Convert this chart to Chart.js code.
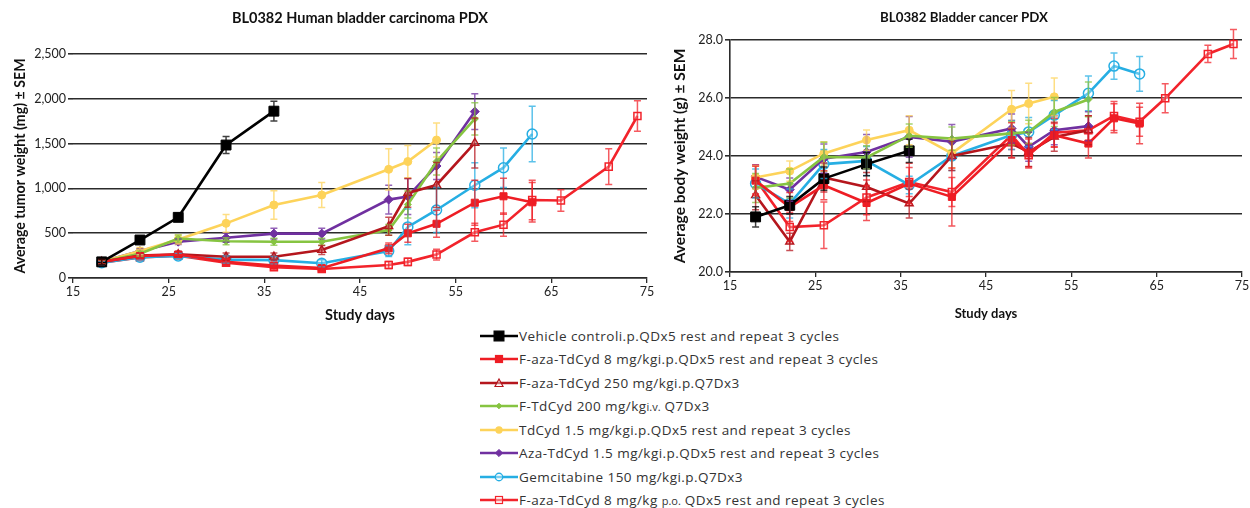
<!DOCTYPE html>
<html><head><meta charset="utf-8">
<script src="https://cdn.jsdelivr.net/npm/chart.js@4.4.1/dist/chart.umd.min.js"></script>
<style>
html,body{margin:0;padding:0;background:#fff;width:1250px;height:508px;overflow:hidden;}
#c1{position:absolute;left:0;top:0;}
#c2{position:absolute;left:660px;top:0;}
#legend{position:absolute;left:480px;top:324px;font-family:'Open Sans',sans-serif;font-size:13.5px;letter-spacing:0.45px;color:#333;}
.row{height:23.5px;display:flex;align-items:center;white-space:nowrap;}
.row svg{margin-right:1px;}
.sm{font-size:11px;letter-spacing:0;}
</style></head>
<body>
<canvas id="c1" width="655" height="324"></canvas>
<canvas id="c2" width="590" height="324"></canvas>
<div id="legend"></div>
<script>
// ---------- categories ----------
const seriesLabels = [
  'Vehicle controli.p.QDx5 rest and repeat 3 cycles',
  'F-aza-TdCyd 8 mg/kgi.p.QDx5 rest and repeat 3 cycles',
  'F-aza-TdCyd 250 mg/kgi.p.Q7Dx3',
  'F-TdCyd 200 mg/kg<span class="sm">i.v.</span> Q7Dx3',
  'TdCyd 1.5 mg/kgi.p.QDx5 rest and repeat 3 cycles',
  'Aza-TdCyd 1.5 mg/kgi.p.QDx5 rest and repeat 3 cycles',
  'Gemcitabine 150 mg/kgi.p.Q7Dx3',
  'F-aza-TdCyd 8 mg/kg <span class="sm">p.o.</span> QDx5 rest and repeat 3 cycles'
];
// ---------- study days per group ----------
const daysVehicle  = [18,22,26,31,36];
const daysFaza8ip  = [18,22,26,31,36,41,48,50,53,57,60,63];
const daysFaza250  = [18,22,26,31,36,41,48,50,53,57];
const daysFTdCyd   = [18,22,26,31,36,41,48,50,53,57];
const daysTdCyd    = [18,22,26,31,36,41,48,50,53];
const daysAza      = [18,22,26,31,36,41,48,50,53,57];
const daysGem      = [18,22,26,31,36,41,48,50,53,57,60,63];
const daysFaza8po  = [18,22,26,31,36,41,48,50,53,57,60,63,66,71,74];

// ---------- tumor weight (mg) ----------
const tumVehicle = [180,424,677,1484,1862];
const tumVehicleErr = [30,40,45,95,110];
const tumFaza8ip = [182,245,262,180,140,110,331,499,605,840,912,845];
const tumFaza8ipErr = [25,30,30,30,30,30,60,100,150,250,200,220];
const tumFaza250 = [180,250,265,238,238,312,578,950,1038,1507];
const tumFaza250Err = [20,30,30,40,40,50,100,160,250,280];
const tumFTdCyd = [180,270,440,410,405,405,536,820,1300,1775];
const tumFTdCydErr = [20,30,40,40,40,40,60,150,150,180];
const tumTdCyd = [180,300,430,610,815,926,1213,1300,1540];
const tumTdCydErr = [20,40,50,100,160,140,230,180,190];
const tumAza = [180,300,405,450,495,495,875,910,1250,1857];
const tumAzaErr = [20,30,30,50,60,60,160,200,150,200];
const tumGem = [170,232,245,205,200,165,300,570,759,1035,1231,1607];
const tumGemErr = [20,30,30,40,40,40,60,200,250,250,220,310];
const tumFaza8po = [170,230,250,170,120,100,145,180,262,510,595,870,865,1243,1808];
const tumFaza8poErr = [20,30,30,30,30,30,40,40,60,100,130,220,120,200,170];

// ---------- body weight (g) ----------
const bwVehicle = [21.90,22.30,23.22,23.72,24.18];
const bwVehicleErr = [0.35,0.3,0.4,0.4,0.4];
const bwFaza8ip = [23.15,22.24,22.99,22.38,23.05,22.59,24.55,24.09,24.72,24.43,25.30,25.12];
const bwFaza8ipErr = [0.5,0.5,0.5,0.6,0.7,1.0,0.6,0.5,0.4,0.5,0.5,0.7];
const bwFaza250 = [22.65,21.04,23.26,22.93,22.36,24.00,24.43,24.14,24.66,24.89];
const bwFaza250Err = [0.5,0.3,0.5,0.5,0.5,0.5,0.5,0.5,0.5,0.5];
const bwFTdCyd = [22.90,23.05,23.97,23.95,24.70,24.60,24.78,24.83,25.52,25.95];
const bwFTdCydErr = [0.5,0.5,0.5,0.4,0.4,0.4,0.4,0.4,0.5,0.6];
const bwTdCyd = [23.26,23.48,24.09,24.55,24.89,24.09,25.61,25.81,26.04];
const bwTdCydErr = [0.4,0.35,0.4,0.35,0.5,0.5,0.65,0.7,0.65];
const bwAza = [23.28,22.84,23.91,24.14,24.66,24.49,24.95,24.32,24.89,25.03];
const bwAzaErr = [0.4,0.4,0.5,0.6,0.7,0.6,0.5,0.5,0.5,0.5];
const bwGem = [23.05,22.36,23.72,23.83,23.00,24.00,24.72,24.83,25.41,26.16,27.10,26.83];
const bwGemErr = [0.5,0.5,0.5,0.5,0.3,0.5,0.5,0.5,0.5,0.6,0.45,0.6];
const bwFaza8po = [23.20,21.55,21.61,22.57,23.10,22.76,24.72,24.03,24.80,24.89,25.38,25.18,25.99,27.52,27.86];
const bwFaza8poErr = [0.5,0.5,0.8,0.6,0.5,0.5,0.5,0.4,0.5,0.5,0.5,0.5,0.5,0.3,0.5];

// ---------- tick labels ----------
const xTicks = [15,25,35,45,55,65,75];
const tumTicks = [0,500,1000,1500,2000,2500];
const bwTicks = [20,22,24,26,28];

// ---------- styles ----------
const styles = [
  {color:'#000000', pointStyle:'rect', r:7, fill:true},
  {color:'#ee1d24', pointStyle:'rect', r:5, fill:true},
  {color:'#b5161d', pointStyle:'triangle', r:4.5, fill:false},
  {color:'#86c441', pointStyle:'rectRot', r:3.5, fill:true},
  {color:'#fdd35a', pointStyle:'circle', r:4, fill:true},
  {color:'#7030a0', pointStyle:'rectRot', r:4.5, fill:true},
  {color:'#26aee3', pointStyle:'circle', r:5, fill:false},
  {color:'#f2232b', pointStyle:'rect', r:5, fill:false}
];
const allDays = [daysVehicle,daysFaza8ip,daysFaza250,daysFTdCyd,daysTdCyd,daysAza,daysGem,daysFaza8po];
const tumVals = [tumVehicle,tumFaza8ip,tumFaza250,tumFTdCyd,tumTdCyd,tumAza,tumGem,tumFaza8po];
const tumErrs = [tumVehicleErr,tumFaza8ipErr,tumFaza250Err,tumFTdCydErr,tumTdCydErr,tumAzaErr,tumGemErr,tumFaza8poErr];
const bwVals = [bwVehicle,bwFaza8ip,bwFaza250,bwFTdCyd,bwTdCyd,bwAza,bwGem,bwFaza8po];
const bwErrs = [bwVehicleErr,bwFaza8ipErr,bwFaza250Err,bwFTdCydErr,bwTdCydErr,bwAzaErr,bwGemErr,bwFaza8poErr];

function makeDatasets(vals, errs){
  return vals.map((v,i)=>{
    const s = styles[i];
    return {
      label: seriesLabels[i].replace(/<[^>]+>/g,''),
      data: allDays[i].map((d,j)=>({x:d, y:v[j]})),
      errors: errs[i],
      borderColor: s.color,
      backgroundColor: s.fill ? s.color : 'rgba(255,255,255,0.3)',
      pointStyle: s.pointStyle,
      pointRadius: s.r,
      pointBorderWidth: s.fill ? 1 : 1.5,
      borderWidth: 2.6,
      tension: 0,
      clip: false
    };
  });
}

const errorBars = {
  id:'errorBars',
  afterDatasetsDraw(chart){
    const ctx = chart.ctx, ys = chart.scales.y;
    for (let i = chart.data.datasets.length-1; i>=0; i--){
      const ds = chart.data.datasets[i];
      const meta = chart.getDatasetMeta(i);
      ctx.save();
      ctx.strokeStyle = ds.borderColor;
      ctx.globalAlpha = 0.75;
      ctx.lineWidth = 1.5;
      meta.data.forEach((pt,j)=>{
        const e = ds.errors[j]; const v = ds.data[j].y;
        const yt = ys.getPixelForValue(v+e), yb = ys.getPixelForValue(v-e), x = pt.x;
        ctx.beginPath();
        ctx.moveTo(x,yt); ctx.lineTo(x,yb);
        ctx.moveTo(x-3.5,yt); ctx.lineTo(x+3.5,yt);
        ctx.moveTo(x-3.5,yb); ctx.lineTo(x+3.5,yb);
        ctx.stroke();
      });
      ctx.restore();
    }
  }
};
const topTitle = {
  id:'topTitle',
  afterDraw(chart, args, opts){
    const ctx = chart.ctx;
    ctx.save();
    ctx.font = 'bold ' + opts.size + 'px Lato';
    ctx.fillStyle = '#111';
    ctx.textAlign = 'center';
    ctx.textBaseline = 'middle';
    ctx.fillText(opts.text, opts.x, opts.y);
    ctx.restore();
  }
};

const gridCol = '#2b2b2b';
function buildChart(id, datasets, cfg){
  return new Chart(document.getElementById(id), {
    type:'line',
    data:{datasets},
    plugins:[errorBars, topTitle],
    options:{
      responsive:false, animation:false, devicePixelRatio:1,
      layout:{padding:cfg.pad},
      plugins:{legend:{display:false}, tooltip:{enabled:false}, title:{display:false},
        topTitle:{text:cfg.title, x:cfg.titleX, y:18, size:cfg.titleSize}},
      scales:{
        x:{type:'linear', min:15, max:75,
          afterBuildTicks(s){ s.ticks = xTicks.map(v=>({value:v})); },
          afterFit(s){ s.height = cfg.xH; s.paddingLeft=0; s.paddingRight=0; },
          grid:{display:true, drawOnChartArea:false, drawTicks:true, tickLength:5, color:gridCol, lineWidth:1.3},
          border:{display:true, color:gridCol, width:1.6},
          ticks:{color:'#222', font:{family:'Lato', size:12.5}, padding:1, maxRotation:0},
          title:{display:true, text:'Study days', color:'#111', font:{family:'Lato', size:cfg.xTitleSize, weight:'bold'}, padding:{top:0,bottom:cfg.xTitlePad}}
        },
        y:{type:'linear', min:cfg.yMin, max:cfg.yMax,
          afterBuildTicks(s){ s.ticks = cfg.yTicks.map(v=>({value:v})); },
          afterFit(s){ s.width = cfg.yW; s.paddingTop=0; s.paddingBottom=0; },
          grid:{display:true, drawOnChartArea:true, drawTicks:true, tickLength:5, color:gridCol, lineWidth:1.6},
          border:{display:cfg.yBorder, color:gridCol, width:1.6},
          ticks:{color:'#222', font:{family:'Lato', size:12.5}, padding:2, callback:cfg.fmt},
          title:{display:true, text:cfg.yTitle, color:'#111', font:{family:'Lato', size:cfg.yTitleSize, weight:'bold'}, padding:{top:cfg.yTitlePad,bottom:0}}
        }
      }
    }
  });
}

buildChart('c1', makeDatasets(tumVals, tumErrs), {
  pad:{top:54,right:8,bottom:0,left:0}, title:'BL0382 Human bladder carcinoma PDX', titleX:360, titleSize:14.5,
  xH:46, xTitlePad:0, xTitleSize:14.5, yMin:0, yMax:2500, yTicks:tumTicks, yW:73, yBorder:false, yTitlePad:12, yTitleSize:14.2,
  yTitle:'Average tumor weight (mg) \u00B1 SEM', fmt:v=>v.toLocaleString('en-US')
});
buildChart('c2', makeDatasets(bwVals, bwErrs), {
  pad:{top:40,right:4,bottom:0,left:0}, title:'BL0382 Bladder cancer PDX', titleX:304, titleSize:13.3,
  xH:52, xTitlePad:2, xTitleSize:13, yMin:20, yMax:28, yTicks:bwTicks, yW:70, yBorder:true, yTitlePad:11, yTitleSize:15.5,
  yTitle:'Average body weight (g) \u00B1 SEM', fmt:v=>v.toFixed(1)
});

// ---------- legend ----------
function markerSvg(s){
  const c = s.color, f = s.fill ? c : 'rgba(255,255,255,0.4)';
  let m = '';
  if (s.pointStyle==='rect'){ const h = s.r*0.7; m = `<rect x="${19-h}" y="${6-h}" width="${2*h}" height="${2*h}" fill="${f}" stroke="${c}" stroke-width="1.2"/>`; }
  else if (s.pointStyle==='triangle'){ m = `<polygon points="19,2 23,9.5 15,9.5" fill="${f}" stroke="${c}" stroke-width="1.2"/>`; }
  else if (s.pointStyle==='rectRot'){ const h = s.r*0.8; m = `<polygon points="19,${6-h} ${19+h},6 19,${6+h} ${19-h},6" fill="${f}" stroke="${c}"/>`; }
  else { m = `<circle cx="19" cy="6" r="${s.r*0.75}" fill="${f}" stroke="${c}" stroke-width="1.3"/>`; }
  return `<svg width="38" height="12" viewBox="0 0 38 12"><line x1="0" y1="6" x2="38" y2="6" stroke="${c}" stroke-width="2.6"/>${m}</svg>`;
}
const leg = document.getElementById('legend');
seriesLabels.forEach((lab,i)=>{
  const row = document.createElement('div');
  row.className = 'row';
  row.innerHTML = markerSvg(styles[i]) + '<span>' + lab + '</span>';
  leg.appendChild(row);
});
</script>
</body></html>
